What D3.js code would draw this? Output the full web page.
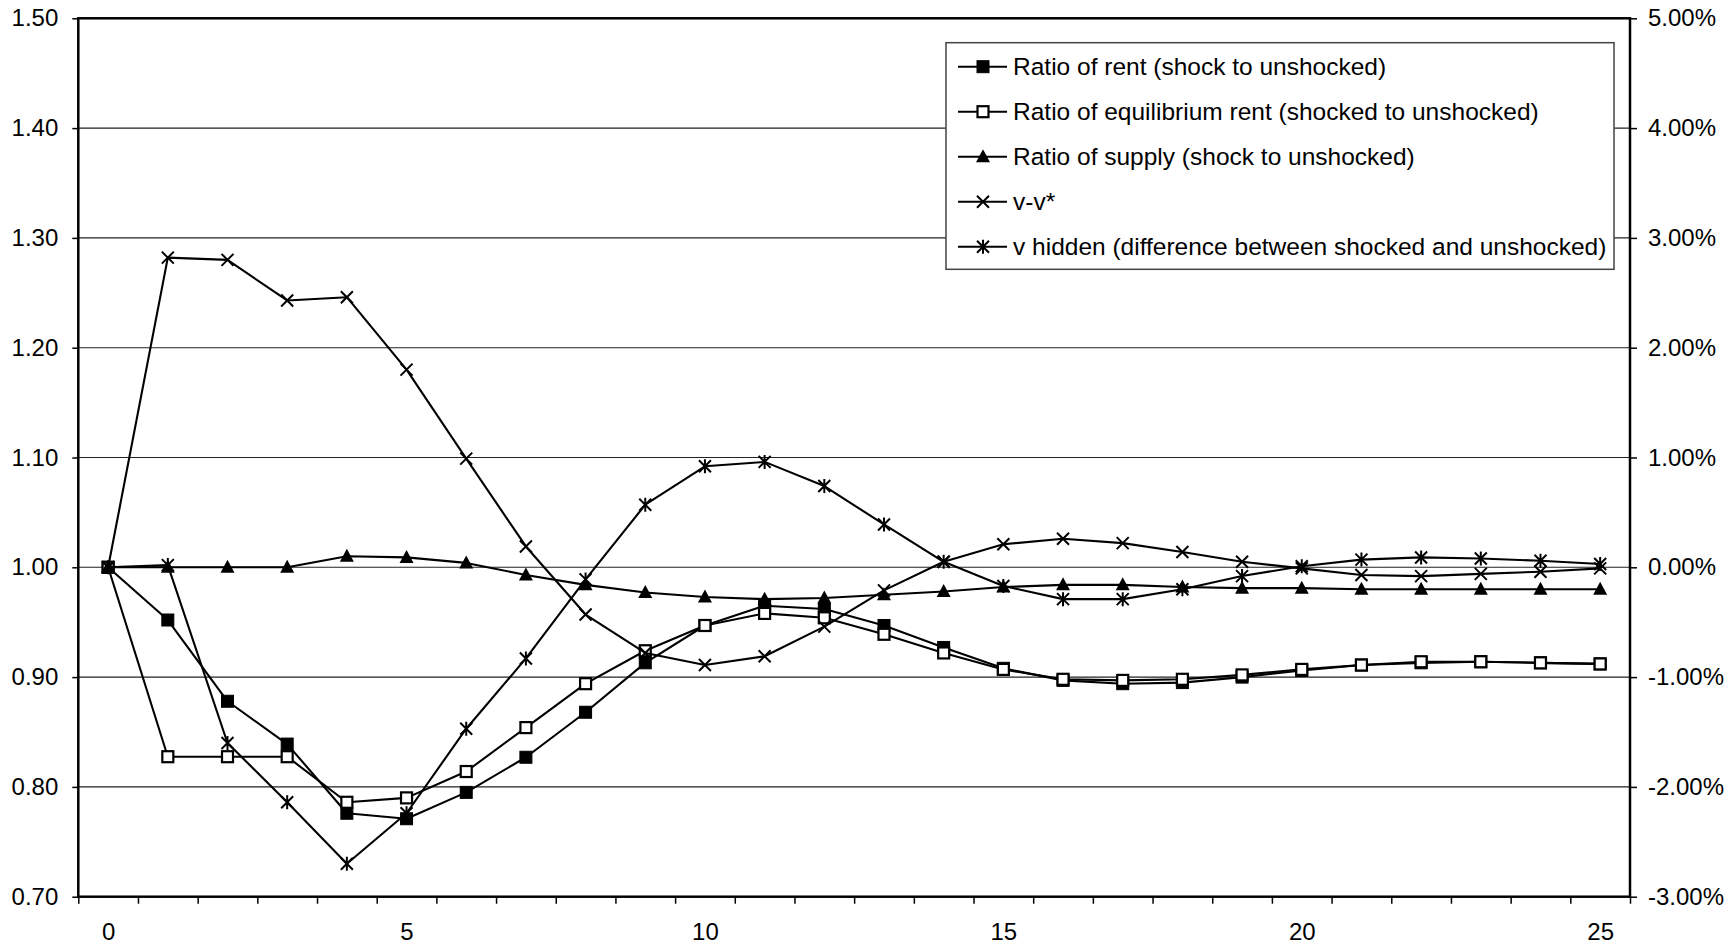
<!DOCTYPE html>
<html>
<head>
<meta charset="utf-8">
<script src="https://cdn.jsdelivr.net/npm/d3@7"></script>
<style>
  html, body { margin: 0; padding: 0; background: #fff; }
  svg { display: block; }
  text { font-family: "Liberation Sans", Arial, sans-serif; fill: #000; }
</style>
</head>
<body>
<svg id="chart" width="1736" height="947"></svg>
<script>
// Periods after the shock
const periods = [0,1,2,3,4,5,6,7,8,9,10,11,12,13,14,15,16,17,18,19,20,21,22,23,24,25];

// Left-axis series (ratios)
const rentRatio = [1.000, 0.952, 0.878, 0.839, 0.776, 0.771, 0.795, 0.827, 0.868, 0.913,
                   0.947, 0.965, 0.962, 0.947, 0.927, 0.908, 0.897, 0.894, 0.895, 0.900,
                   0.906, 0.911, 0.913, 0.914, 0.913, 0.912];
const eqRentRatio = [1.000, 0.8275, 0.8275, 0.8275, 0.786, 0.790, 0.814, 0.854, 0.894, 0.924,
                     0.947, 0.958, 0.954, 0.939, 0.922, 0.907, 0.898, 0.897, 0.898, 0.902,
                     0.907, 0.911, 0.914, 0.914, 0.913, 0.912];
const supplyRatio = [1.000, 1.000, 1.000, 1.000, 1.010, 1.009, 1.004, 0.993, 0.984, 0.977,
                     0.973, 0.971, 0.972, 0.975, 0.978, 0.982, 0.984, 0.984, 0.982, 0.981,
                     0.981, 0.980, 0.980, 0.980, 0.980, 0.980];

// Right-axis series (differences)
const vGap = [0.0000, 0.0282, 0.0280, 0.0243, 0.0246, 0.0180, 0.0099, 0.0019, -0.0043, -0.0078,
              -0.0089, -0.0081, -0.0054, -0.0021, 0.0005, 0.0021, 0.0026, 0.0022, 0.0014, 0.0005,
              -0.0001, -0.0007, -0.0008, -0.0006, -0.0004, -0.0001];
const vHidden = [0.0000, 0.0002, -0.0160, -0.0214, -0.0270, -0.0224, -0.0147, -0.0083, -0.0011, 0.0057,
                 0.0092, 0.0096, 0.0074, 0.0039, 0.0005, -0.0017, -0.0029, -0.0029, -0.0020, -0.0008,
                 0.0001, 0.0007, 0.0009, 0.0008, 0.0006, 0.0003];

const seriesNames = [
  "Ratio of rent (shock to unshocked)",
  "Ratio of equilibrium rent (shocked to unshocked)",
  "Ratio of supply (shock to unshocked)",
  "v-v*",
  "v hidden (difference between shocked and unshocked)"
];

// Tick labels
const leftTicks = [0.70, 0.80, 0.90, 1.00, 1.10, 1.20, 1.30, 1.40, 1.50];
const rightTicks = [-0.03, -0.02, -0.01, 0.00, 0.01, 0.02, 0.03, 0.04, 0.05];
const xLabelTicks = [0, 5, 10, 15, 20, 25];

// ---- layout
const plot = { left: 78.3, right: 1630, top: 18.3, bottom: 896.7 };

const svg = d3.select("#chart");

const x = d3.scaleLinear().domain([-0.5, 25.5]).range([plot.left, plot.right]);
const yL = d3.scaleLinear().domain([0.70, 1.50]).range([plot.bottom, plot.top]);
const yR = d3.scaleLinear().domain([-0.03, 0.05]).range([plot.bottom, plot.top]);

// gridlines
svg.append("g").selectAll("line")
  .data(leftTicks.slice(1, -1))
  .join("line")
  .attr("x1", plot.left).attr("x2", plot.right)
  .attr("y1", d => yL(d)).attr("y2", d => yL(d))
  .attr("stroke", "#222").attr("stroke-width", 1.1);

// axes
const axisFont = 24;
const legendFont = 24.5;
const leftAxis = d3.axisLeft(yL).tickValues(leftTicks)
  .tickFormat(d3.format(".2f")).tickSize(6).tickPadding(14);
const rightAxis = d3.axisRight(yR).tickValues(rightTicks)
  .tickFormat(d => (d * 100).toFixed(2) + "%").tickSize(7).tickPadding(11);
const bottomTicks = d3.axisBottom(x).tickValues(d3.range(-0.5, 26, 1))
  .tickFormat("").tickSize(7);
const bottomLabels = d3.axisBottom(x).tickValues(xLabelTicks)
  .tickFormat(d3.format("d")).tickSize(0).tickPadding(26);

function styleAxis(g) {
  g.select(".domain").remove();
  g.selectAll(".tick line").attr("stroke", "#000").attr("stroke-width", 1.5);
  g.selectAll(".tick text").attr("font-size", axisFont)
    .attr("font-family", "'Liberation Sans', Arial, sans-serif").attr("fill", "#000");
}

svg.append("g").attr("transform", `translate(${plot.left},0)`).call(leftAxis).call(styleAxis);
svg.append("g").attr("transform", `translate(${plot.right},0)`).call(rightAxis).call(styleAxis);
svg.append("g").attr("transform", `translate(0,${plot.bottom})`).call(bottomTicks).call(styleAxis);
svg.append("g").attr("transform", `translate(0,${plot.bottom})`).call(bottomLabels).call(styleAxis);

// plot frame
svg.append("rect")
  .attr("x", plot.left).attr("y", plot.top)
  .attr("width", plot.right - plot.left).attr("height", plot.bottom - plot.top)
  .attr("fill", "none").attr("stroke", "#000").attr("stroke-width", 2.5);

// ---- markers
function drawMarker(g, type, cx, cy) {
  const s = 6;
  if (type === "filledSquare") {
    g.append("rect").attr("x", cx - 6).attr("y", cy - 6).attr("width", 12).attr("height", 12)
      .attr("fill", "#000").attr("stroke", "#000").attr("stroke-width", 1);
  } else if (type === "openSquare") {
    g.append("rect").attr("x", cx - 5.5).attr("y", cy - 5.5).attr("width", 11).attr("height", 11)
      .attr("fill", "#fff").attr("stroke", "#000").attr("stroke-width", 2.2);
  } else if (type === "triangle") {
    g.append("path")
      .attr("d", `M${cx},${cy - 7.5}L${cx + 7},${cy + 5.5}L${cx - 7},${cy + 5.5}Z`)
      .attr("fill", "#000");
  } else if (type === "cross") {
    g.append("path")
      .attr("d", `M${cx - s},${cy - s}L${cx + s},${cy + s}M${cx - s},${cy + s}L${cx + s},${cy - s}`)
      .attr("stroke", "#000").attr("stroke-width", 2).attr("fill", "none");
  } else if (type === "star") {
    g.append("path")
      .attr("d", `M${cx - s},${cy - s}L${cx + s},${cy + s}M${cx - s},${cy + s}L${cx + s},${cy - s}M${cx},${cy - s - 1}L${cx},${cy + s + 1}`)
      .attr("stroke", "#000").attr("stroke-width", 2).attr("fill", "none");
  }
}

const series = [
  { values: rentRatio,   scale: yL, marker: "filledSquare" },
  { values: eqRentRatio, scale: yL, marker: "openSquare" },
  { values: supplyRatio, scale: yL, marker: "triangle" },
  { values: vGap,        scale: yR, marker: "cross" },
  { values: vHidden,     scale: yR, marker: "star" }
];

const lines = svg.append("g");
series.forEach(s => {
  const line = d3.line().x((d, i) => x(periods[i])).y(d => s.scale(d));
  const g = lines.append("g");
  g.append("path").datum(s.values).attr("d", line)
    .attr("fill", "none").attr("stroke", "#000").attr("stroke-width", 2.1)
    .attr("stroke-linejoin", "round");
  s.values.forEach((v, i) => drawMarker(g, s.marker, x(periods[i]), s.scale(v)));
});

// ---- legend
const legend = { x: 946, y: 42.7, w: 668, h: 226.6, rowStart: 66.7, rowStep: 45 };
const lg = svg.append("g");
lg.append("rect")
  .attr("x", legend.x).attr("y", legend.y).attr("width", legend.w).attr("height", legend.h)
  .attr("fill", "#fff").attr("stroke", "#444").attr("stroke-width", 1.5);

series.forEach((s, i) => {
  const cy = legend.rowStart + i * legend.rowStep;
  lg.append("line").attr("x1", 958).attr("x2", 1007).attr("y1", cy).attr("y2", cy)
    .attr("stroke", "#000").attr("stroke-width", 2);
  drawMarker(lg, s.marker, 983, cy);
  lg.append("text").attr("x", 1013).attr("y", cy + 8.6)
    .attr("font-size", legendFont).text(seriesNames[i]);
});
</script>
</body>
</html>
